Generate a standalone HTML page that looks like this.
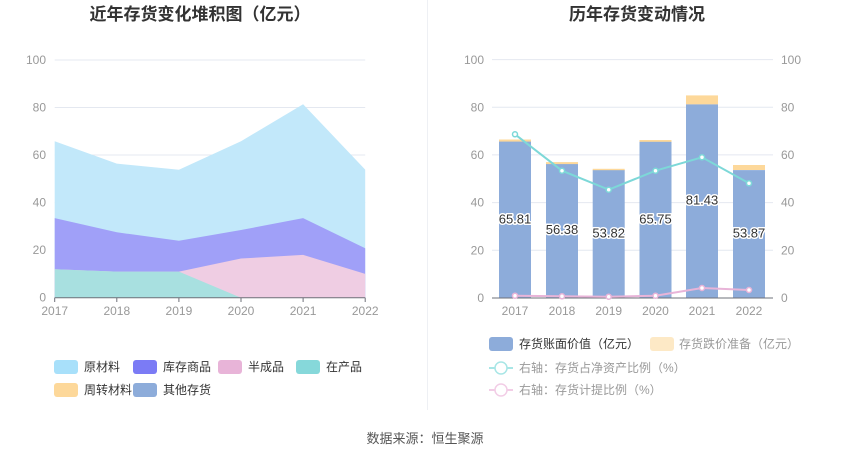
<!DOCTYPE html>
<html><head><meta charset="utf-8"><style>
body{margin:0;background:#fff;}
svg text{font-family:"Liberation Sans","Noto Sans CJK SC",sans-serif;}
</style></head><body>
<svg width="850" height="459" viewBox="0 0 850 459" xmlns="http://www.w3.org/2000/svg">
<rect width="850" height="459" fill="#fff"/>
<line x1="427.5" y1="0" x2="427.5" y2="410" stroke="#eef0f4"/>
<text x="200" y="20" text-anchor="middle" font-size="17" font-weight="bold" fill="#333">近年存货变化堆积图（亿元）</text>
<text x="637" y="20" text-anchor="middle" font-size="17" font-weight="bold" fill="#333">历年存货变动情况</text>
<!-- left grid -->
<g stroke="#e4e8f0">
<line x1="54.7" y1="60" x2="365.2" y2="60"/><line x1="54.7" y1="107.5" x2="365.2" y2="107.5"/><line x1="54.7" y1="155" x2="365.2" y2="155"/><line x1="54.7" y1="202.6" x2="365.2" y2="202.6"/><line x1="54.7" y1="250.2" x2="365.2" y2="250.2"/>
</g>
<g font-size="12" fill="#999" text-anchor="end">
<text x="46" y="64">100</text><text x="46" y="111.5">80</text><text x="46" y="159">60</text><text x="46" y="206.6">40</text><text x="46" y="254.2">20</text><text x="46" y="301.7">0</text>
</g>
<polygon fill="#c2e8fa" points="54.7,141.3 116.8,163.6 178.9,169.8 241,141.3 303.1,104.2 365.2,169.6 365.2,297.7 54.7,297.7"/>
<polygon fill="#a0a0f8" points="54.7,218.1 116.8,232.3 178.9,240.7 241,230 303.1,218.1 365.2,248.3 365.2,297.7 54.7,297.7"/>
<polygon fill="#efcde3" points="54.7,269.2 116.8,271.6 178.9,271.6 241,258.5 303.1,254.9 365.2,273.9 365.2,297.7 54.7,297.7"/>
<polygon fill="#a8e0e0" points="54.7,269.2 116.8,271.6 178.9,271.6 241,297.7 54.7,297.7"/>
<line x1="54.7" y1="297.7" x2="365.2" y2="297.7" stroke="#6e7079"/>
<g stroke="#6e7079"><line x1="54.7" y1="297.7" x2="54.7" y2="302"/><line x1="116.8" y1="297.7" x2="116.8" y2="302"/><line x1="178.9" y1="297.7" x2="178.9" y2="302"/><line x1="241" y1="297.7" x2="241" y2="302"/><line x1="303.1" y1="297.7" x2="303.1" y2="302"/><line x1="365.2" y1="297.7" x2="365.2" y2="302"/></g>
<g font-size="12" fill="#999" text-anchor="middle">
<text x="54.7" y="315">2017</text><text x="116.8" y="315">2018</text><text x="178.9" y="315">2019</text><text x="241" y="315">2020</text><text x="303.1" y="315">2021</text><text x="365.2" y="315">2022</text>
</g>
<!-- left legend -->
<g font-size="12" fill="#333">
<rect x="54" y="360" width="24" height="14" rx="3" fill="#a8e0fa"/><text x="84" y="371">原材料</text>
<rect x="133" y="360" width="24" height="14" rx="3" fill="#7b7bf5"/><text x="163" y="371">库存商品</text>
<rect x="218" y="360" width="24" height="14" rx="3" fill="#e8b4d8"/><text x="248" y="371">半成品</text>
<rect x="296" y="360" width="24" height="14" rx="3" fill="#86d8da"/><text x="326" y="371">在产品</text>
<rect x="54" y="383" width="24" height="14" rx="3" fill="#fdd89a"/><text x="84" y="394">周转材料</text>
<rect x="133" y="383" width="24" height="14" rx="3" fill="#8dacda"/><text x="163" y="394">其他存货</text>
</g>
<!-- right grid -->
<g stroke="#e4e8f0">
<line x1="492" y1="59.6" x2="773" y2="59.6"/><line x1="492" y1="107.3" x2="773" y2="107.3"/><line x1="492" y1="154.9" x2="773" y2="154.9"/><line x1="492" y1="202.6" x2="773" y2="202.6"/><line x1="492" y1="250.3" x2="773" y2="250.3"/>
</g>
<g font-size="12" fill="#999" text-anchor="end">
<text x="484" y="64">100</text><text x="484" y="111.3">80</text><text x="484" y="159">60</text><text x="484" y="206.6">40</text><text x="484" y="254.3">20</text><text x="484" y="302">0</text>
</g>
<g font-size="12" fill="#999">
<text x="781" y="64">100</text><text x="781" y="111.3">80</text><text x="781" y="159">60</text><text x="781" y="206.6">40</text><text x="781" y="254.3">20</text><text x="781" y="302">0</text>
</g>
<g fill="#fdd89a">
<rect x="499" y="139.5" width="32" height="3"/><rect x="546" y="162.1" width="32" height="3"/><rect x="592.7" y="168.8" width="32" height="2"/><rect x="639.5" y="140" width="32" height="3"/><rect x="686" y="95.4" width="32" height="9"/><rect x="733" y="165" width="32" height="5"/>
</g>
<g fill="#8dacda">
<rect x="499" y="141.6" width="32" height="156.4"/><rect x="546" y="164.1" width="32" height="133.9"/><rect x="592.7" y="170.2" width="32" height="127.8"/><rect x="639.5" y="141.8" width="32" height="156.2"/><rect x="686" y="104.4" width="32" height="193.6"/><rect x="733" y="170.1" width="32" height="127.9"/>
</g>
<line x1="492" y1="298" x2="773" y2="298" stroke="#6e7079"/>
<g font-size="12" fill="#999" text-anchor="middle">
<text x="515" y="315">2017</text><text x="562" y="315">2018</text><text x="608.7" y="315">2019</text><text x="655.5" y="315">2020</text><text x="702" y="315">2021</text><text x="749" y="315">2022</text>
</g>
<polyline fill="none" stroke="#7dd8d8" stroke-width="2" points="515,134.3 562,170.7 608.7,189.7 655.5,170.7 702,157.3 749,183.3"/>
<g fill="#fff" stroke="#7dd8d8" stroke-width="1.5"><circle cx="515" cy="134.3" r="2.5"/><circle cx="562" cy="170.7" r="2.5"/><circle cx="608.7" cy="189.7" r="2.5"/><circle cx="655.5" cy="170.7" r="2.5"/><circle cx="702" cy="157.3" r="2.5"/><circle cx="749" cy="183.3" r="2.5"/></g>
<polyline fill="none" stroke="#e8b4d8" stroke-width="2" points="515,295.7 562,296.3 608.7,296.7 655.5,295.7 702,288 749,290"/>
<g fill="#fff" stroke="#e8b4d8" stroke-width="1.5"><circle cx="515" cy="295.7" r="2.5"/><circle cx="562" cy="296.3" r="2.5"/><circle cx="608.7" cy="296.7" r="2.5"/><circle cx="655.5" cy="295.7" r="2.5"/><circle cx="702" cy="288" r="2.5"/><circle cx="749" cy="290" r="2.5"/></g>
<g font-size="13" fill="#333" text-anchor="middle" stroke="#fff" stroke-width="3" paint-order="stroke" stroke-linejoin="round">
<text x="515" y="223.5">65.81</text><text x="562" y="234.2">56.38</text><text x="608.7" y="237.5">53.82</text><text x="655.5" y="223.5">65.75</text><text x="702" y="204.5">81.43</text><text x="749" y="237.5">53.87</text>
</g>
<!-- right legend -->
<g font-size="12">
<rect x="489" y="337" width="24" height="14" rx="3" fill="#8dacda"/><text x="519" y="348" fill="#333">存货账面价值（亿元）</text>
<rect x="650" y="337" width="24" height="14" rx="3" fill="#fde9c6"/><text x="679" y="348" fill="#999">存货跌价准备（亿元）</text>
<line x1="489" y1="368" x2="513" y2="368" stroke="#a8e6e6" stroke-width="2"/><circle cx="501" cy="368" r="6" fill="#fff" stroke="#a8e6e6" stroke-width="1.5"/><text x="519" y="372" fill="#999">右轴：存货占净资产比例（%）</text>
<line x1="489" y1="390" x2="513" y2="390" stroke="#f2cde6" stroke-width="2"/><circle cx="501" cy="390" r="6" fill="#fff" stroke="#f2cde6" stroke-width="1.5"/><text x="519" y="394" fill="#999">右轴：存货计提比例（%）</text>
</g>
<text x="425" y="443" text-anchor="middle" font-size="13" fill="#555">数据来源：恒生聚源</text>
</svg>
</body></html>
